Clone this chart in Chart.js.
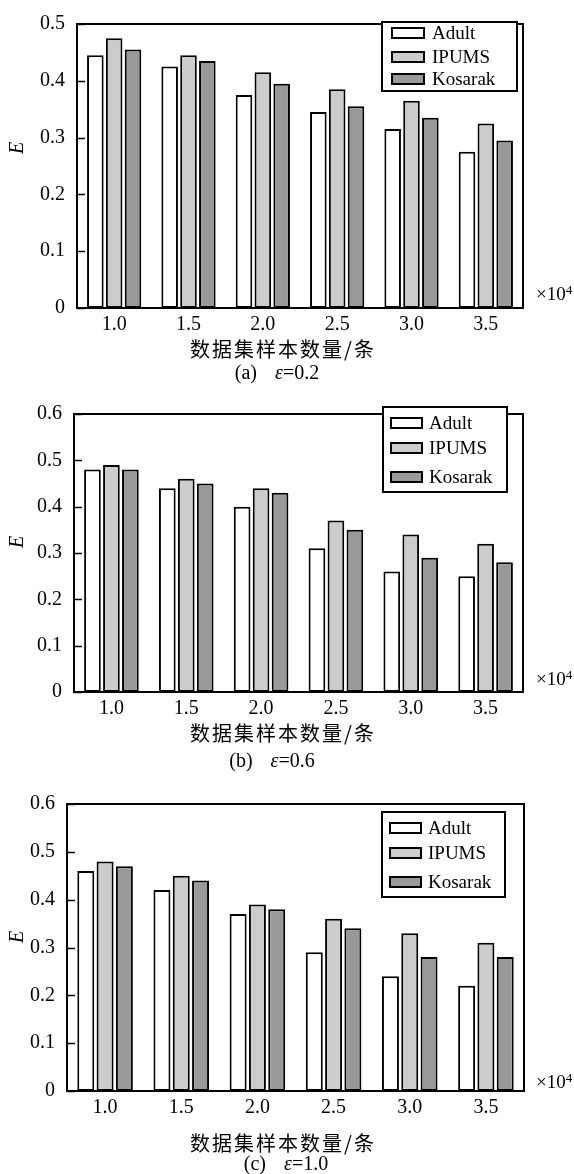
<!DOCTYPE html>
<html>
<head>
<meta charset="utf-8">
<script src="https://cdn.jsdelivr.net/npm/chart.js@4.4.1/dist/chart.umd.min.js"></script>
<style>
    body { margin: 0; background: #fff; width: 574px; height: 1174px; position: relative; overflow: hidden;
           font-family: "Liberation Serif", "Times New Roman", serif; color: #000; }
    .panel { position: absolute; left: 0; width: 574px; }
    .panel canvas { position: absolute; left: 0; top: 0; }
    .txt { position: absolute; white-space: nowrap; transform: translate(-50%, -50%); }
    .ylab { font-style: italic; font-size: 20px; transform: translate(-50%, -50%) rotate(-90deg); }
    .xtitle { font-family: "Noto Sans CJK SC", sans-serif; font-size: 20px; letter-spacing: 2px; }
    .cap { font-size: 20px; }
    .cap i { margin-left: 18px; }
    .mult { font-size: 19px; transform: translate(0, -50%); }
    .mult sup { font-size: 13px; vertical-align: 6px; }
</style>
</head>
<body>

<div class="panel" style="top:0;height:390px"><canvas id="chartA" width="574" height="390"></canvas></div>
<div class="panel" style="top:390px;height:390px"><canvas id="chartB" width="574" height="390"></canvas></div>
<div class="panel" style="top:780px;height:394px"><canvas id="chartC" width="574" height="394"></canvas></div>

<div class="txt ylab" style="left:16px;top:148px">E</div>
<div class="txt ylab" style="left:16px;top:542px">E</div>
<div class="txt ylab" style="left:16px;top:937px">E</div>

<div class="txt mult" style="left:536px;top:293px">×10<sup>4</sup></div>
<div class="txt mult" style="left:536px;top:678px">×10<sup>4</sup></div>
<div class="txt mult" style="left:536px;top:1081px">×10<sup>4</sup></div>

<div class="txt xtitle" style="left:283px;top:348px">数据集样本数量/条</div>
<div class="txt xtitle" style="left:283px;top:732px">数据集样本数量/条</div>
<div class="txt xtitle" style="left:283px;top:1142px">数据集样本数量/条</div>

<div class="txt cap" style="left:277px;top:372px">(a)<i>ε</i>=0.2</div>
<div class="txt cap" style="left:272px;top:760px">(b)<i>ε</i>=0.6</div>
<div class="txt cap" style="left:286px;top:1163px">(c)<i>ε</i>=1.0</div>

<script>
// Categories (dataset size, x10^4)
const categories = ['1.0', '1.5', '2.0', '2.5', '3.0', '3.5'];
const seriesNames = ['Adult', 'IPUMS', 'Kosarak'];

// (a) epsilon = 0.2
const adultA   = [0.445, 0.425, 0.375, 0.345, 0.315, 0.275];
const ipumsA   = [0.475, 0.445, 0.415, 0.385, 0.365, 0.325];
const kosarakA = [0.455, 0.435, 0.395, 0.355, 0.335, 0.295];

// (b) epsilon = 0.6
const adultB   = [0.48, 0.44, 0.40, 0.31, 0.26, 0.25];
const ipumsB   = [0.49, 0.46, 0.44, 0.37, 0.34, 0.32];
const kosarakB = [0.48, 0.45, 0.43, 0.35, 0.29, 0.28];

// (c) epsilon = 1.0
const adultC   = [0.46, 0.42, 0.37, 0.29, 0.24, 0.22];
const ipumsC   = [0.48, 0.45, 0.39, 0.36, 0.33, 0.31];
const kosarakC = [0.47, 0.44, 0.38, 0.34, 0.28, 0.28];

// y axis ranges
const yMaxA = 0.5;
const yMaxB = 0.6;
const yMaxC = 0.6;

const fills = ['#ffffff', '#cccccc', '#999999'];

Chart.defaults.font.family = '"Liberation Serif", "Times New Roman", serif';
Chart.defaults.font.size = 20;
Chart.defaults.color = '#000';

// box around the plot + small inward ticks on the left axis
const framePlugin = {
    id: 'frame',
    afterDatasetsDraw(chart) {
        const { ctx, chartArea: a } = chart;
        const y = chart.scales.y;
        ctx.save();
        ctx.strokeStyle = '#000';
        ctx.lineWidth = 1.5;
        y.ticks.forEach(t => {
            const py = Math.round(y.getPixelForValue(t.value)) + 0.5;
            ctx.beginPath();
            ctx.moveTo(a.left, py);
            ctx.lineTo(a.left + 8, py);
            ctx.stroke();
        });
        ctx.lineWidth = 2;
        ctx.strokeRect(a.left, a.top, a.right - a.left, a.bottom - a.top);
        ctx.restore();
    }
};

// legend drawn inside the plot, in a framed box
const boxLegend = {
    id: 'boxLegend',
    afterDraw(chart, args, opts) {
        const ctx = chart.ctx;
        ctx.save();
        ctx.strokeStyle = '#000';
        ctx.lineWidth = 2;
        ctx.fillStyle = '#fff';
        ctx.fillRect(opts.x, opts.y, opts.w, opts.h);
        ctx.strokeRect(opts.x, opts.y, opts.w, opts.h);
        ctx.font = '19px "Liberation Serif", "Times New Roman", serif';
        ctx.textBaseline = 'middle';
        chart.data.datasets.forEach((ds, i) => {
            const cy = opts.rows[i];
            ctx.fillStyle = ds.backgroundColor;
            ctx.fillRect(opts.sx, cy - 5, opts.sw, 10);
            ctx.strokeRect(opts.sx, cy - 5, opts.sw, 10);
            ctx.fillStyle = '#000';
            ctx.fillText(ds.label, opts.tx, cy + 1);
        });
        ctx.restore();
    }
};

function makeChart(id, values, yMax, box, legend) {
    const canvas = document.getElementById(id);
    const H = canvas.height;
    new Chart(canvas.getContext('2d'), {
        type: 'bar',
        data: {
            labels: categories,
            datasets: values.map((v, i) => ({
                label: seriesNames[i],
                data: v,
                backgroundColor: fills[i],
                borderColor: '#000',
                borderWidth: 2,
                borderSkipped: false,
                categoryPercentage: 0.76,
                barPercentage: 0.88
            }))
        },
        options: {
            responsive: false,
            animation: false,
            layout: { padding: { top: box.top, right: 574 - box.right, left: 0, bottom: 0 } },
            plugins: {
                legend: { display: false },
                tooltip: { enabled: false },
                boxLegend: legend
            },
            scales: {
                x: {
                    grid: { display: false, drawTicks: false },
                    border: { display: false },
                    ticks: { padding: 5, maxRotation: 0 },
                    afterFit: (s) => { s.height = H - box.bottom; }
                },
                y: {
                    min: 0,
                    max: yMax,
                    grid: { display: false, drawTicks: false },
                    border: { display: false },
                    ticks: {
                        stepSize: 0.1,
                        padding: 12,
                        callback: (v) => v === 0 ? '0' : v.toFixed(1)
                    },
                    afterFit: (s) => { s.width = box.left; }
                }
            }
        },
        plugins: [framePlugin, boxLegend]
    });
}

makeChart('chartA', [adultA, ipumsA, kosarakA], yMaxA,
    { left: 77, right: 523, top: 17, bottom: 308 },
    { x: 382, y: 22, w: 135, h: 69, sx: 392, sw: 32, tx: 432, rows: [33, 57, 79] });

makeChart('chartB', [adultB, ipumsB, kosarakB], yMaxB,
    { left: 74, right: 523, top: 11, bottom: 302 },
    { x: 383, y: 17, w: 124, h: 85, sx: 391, sw: 31, tx: 429, rows: [33, 58, 87] });

makeChart('chartC', [adultC, ipumsC, kosarakC], yMaxC,
    { left: 67, right: 524, top: 13, bottom: 311 },
    { x: 382, y: 32, w: 123, h: 85, sx: 390, sw: 31, tx: 428, rows: [48, 73, 102] });
</script>
</body>
</html>
